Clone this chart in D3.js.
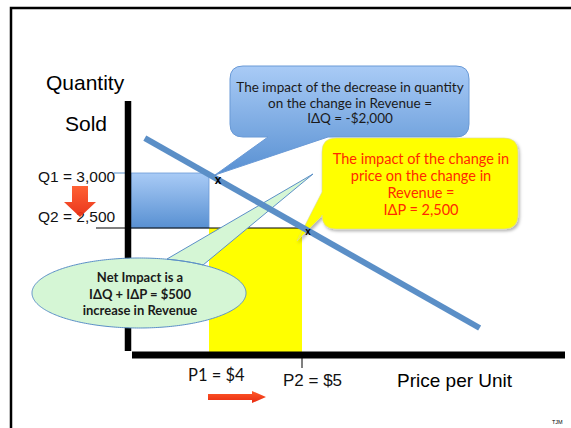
<!DOCTYPE html>
<html>
<head>
<meta charset="utf-8">
<script src="https://cdn.jsdelivr.net/npm/d3@7"></script>
<style>
  body { margin: 0; background: #fff; }
  svg { display: block; }
</style>
</head>
<body>
<svg id="chart"></svg>
<script>
// values
var prices = [4, 5];
var quantities = [3000, 2500];
var priceLabels = ["P1 = $4", "P2 = $5"];
var qtyLabels = ["Q1 = 3,000", "Q2 = 2,500"];
var demandPrice = [3.31, 6.91];
var demandQty = [3318, 1591];

var blueText = ["The impact of the decrease in quantity", "on the change in Revenue =", "I\u0394Q = -$2,000"];
var yellowText = ["The impact of the change in", "price on the change in", "Revenue =", "I\u0394P = 2,500"];
var greenText = ["Net Impact is a", "I\u0394Q + I\u0394P = $500", "increase in Revenue"];

var W = 571, H = 428;
var sans = "'Liberation Sans', Arial, sans-serif";
var cal = "Lato, 'Open Sans', sans-serif";

var svg = d3.select("#chart").attr("width", W).attr("height", H);

var x = d3.scaleLinear().domain(prices).range([209, 302]);
var y = d3.scaleLinear().domain([quantities[1], quantities[0]]).range([228, 173]);

var axisX = 128, axisY = 355;

var defs = svg.append("defs");
var bg = defs.append("linearGradient").attr("id", "blueGrad").attr("x1", 0).attr("y1", 0).attr("x2", 0).attr("y2", 1);
bg.append("stop").attr("offset", "0%").attr("stop-color", "#a9cbf6");
bg.append("stop").attr("offset", "100%").attr("stop-color", "#5890d2");
var rg = defs.append("linearGradient").attr("id", "redGrad").attr("x1", 0).attr("y1", 0).attr("x2", 0).attr("y2", 1);
rg.append("stop").attr("offset", "0%").attr("stop-color", "#ff5a2a");
rg.append("stop").attr("offset", "100%").attr("stop-color", "#e82a10");
var sh = defs.append("filter").attr("id", "shadow").attr("x", "-10%").attr("y", "-10%").attr("width", "130%").attr("height", "130%");
sh.append("feDropShadow").attr("dx", 1.5).attr("dy", 2).attr("stdDeviation", 1.5).attr("flood-color", "#000").attr("flood-opacity", 0.3);

// slide frame
svg.append("path")
  .attr("d", "M11," + H + " V8 H" + W)
  .attr("fill", "none").attr("stroke", "#000").attr("stroke-width", 2.5);

// rectangles
svg.append("rect")
  .attr("x", axisX + 3).attr("y", y(quantities[0]))
  .attr("width", x(prices[0]) - axisX - 3)
  .attr("height", y(quantities[1]) - y(quantities[0]))
  .attr("fill", "url(#blueGrad)").attr("stroke", "#6a9ad6").attr("stroke-width", 0.8);

svg.append("rect")
  .attr("x", x(prices[0])).attr("y", y(quantities[1]))
  .attr("width", x(prices[1]) - x(prices[0]))
  .attr("height", axisY - y(quantities[1]))
  .attr("fill", "#ffff00");

// guide lines
svg.append("line")
  .attr("x1", 96).attr("x2", x(prices[1]) + 2)
  .attr("y1", y(quantities[1])).attr("y2", y(quantities[1]))
  .attr("stroke", "#000").attr("stroke-width", 1);
svg.append("line")
  .attr("x1", 114).attr("x2", axisX)
  .attr("y1", y(quantities[0])).attr("y2", y(quantities[0]))
  .attr("stroke", "#5b8fc7").attr("stroke-width", 1);
svg.append("line")
  .attr("x1", x(prices[1])).attr("x2", x(prices[1]))
  .attr("y1", axisY).attr("y2", 368)
  .attr("stroke", "#000").attr("stroke-width", 1);

// axes
svg.append("line").attr("x1", axisX).attr("x2", axisX).attr("y1", 101).attr("y2", 351)
  .attr("stroke", "#000").attr("stroke-width", 6.5);
svg.append("line").attr("x1", 132).attr("x2", 565).attr("y1", axisY).attr("y2", axisY)
  .attr("stroke", "#000").attr("stroke-width", 7);

// callouts
function bubble(x0, y0, x1, y1, r, tail) {
  var p = d3.path();
  p.moveTo(x0 + r, y0);
  p.lineTo(x1 - r, y0);
  p.quadraticCurveTo(x1, y0, x1, y0 + r);
  p.lineTo(x1, y1 - r);
  p.quadraticCurveTo(x1, y1, x1 - r, y1);
  if (tail.side == "bottom") {
    p.lineTo(tail.b, y1);
    p.lineTo(tail.tx, tail.ty);
    p.lineTo(tail.a, y1);
    p.lineTo(x0 + r, y1);
    p.quadraticCurveTo(x0, y1, x0, y1 - r);
  } else {
    p.lineTo(x0 + r, y1);
    p.quadraticCurveTo(x0, y1, x0, y1 - r);
    p.lineTo(x0, tail.b);
    p.lineTo(tail.tx, tail.ty);
    p.lineTo(x0, tail.a);
  }
  p.lineTo(x0, y0 + r);
  p.quadraticCurveTo(x0, y0, x0 + r, y0);
  p.closePath();
  return p.toString();
}

svg.append("path")
  .attr("d", bubble(230, 66, 469, 137, 13, {side: "bottom", a: 268, b: 328, tx: 215, ty: 175}))
  .attr("fill", "url(#blueGrad)").attr("stroke", "#6a9ad6").attr("stroke-width", 1);

svg.append("path")
  .attr("d", bubble(322, 138, 518, 229, 14, {side: "left", a: 192, b: 216, tx: 297, ty: 241}))
  .attr("fill", "#ffff00").attr("stroke", "#d8d8a0").attr("stroke-width", 0.6)
  .attr("filter", "url(#shadow)");

// green ellipse callout
var gp = d3.path();
var cx = 139, cy = 293, rx = 107, ry = 35;
var a1 = Math.atan2((259 - cy) / ry, (167 - cx) / rx);
var a2 = Math.atan2((265 - cy) / ry, (203 - cx) / rx);
var pts = [];
for (var t = a2; t > a1 - 2 * Math.PI; t -= 0.02) pts.push([cx + rx * Math.cos(t), cy + ry * Math.sin(t)]);
pts.push([167, 259]);
pts.push([313, 174]);
svg.append("path")
  .attr("d", d3.line()(pts) + "Z")
  .attr("fill", "#d5f6d5").attr("stroke", "#5b8fc7").attr("stroke-width", 1);

// demand line
svg.append("line")
  .attr("x1", x(demandPrice[0])).attr("y1", y(demandQty[0]))
  .attr("x2", x(demandPrice[1])).attr("y2", y(demandQty[1]))
  .attr("stroke", "#5b8fc7").attr("stroke-width", 6);

// x marks
svg.append("text").attr("x", 218).attr("y", 184).attr("text-anchor", "middle")
  .attr("font-family", sans).attr("font-weight", "bold").attr("font-size", 12).text("x");
svg.append("text").attr("x", 308).attr("y", 235).attr("text-anchor", "middle")
  .attr("font-family", sans).attr("font-weight", "bold").attr("font-size", 10).text("x");

// callout texts
svg.append("g").selectAll("text").data(blueText).enter().append("text")
  .attr("x", 350).attr("y", (d, i) => 92 + i * 15.5)
  .attr("text-anchor", "middle").attr("font-family", cal).attr("font-size", 13.5)
  .attr("fill", "#1a1a1a").text(d => d);

svg.append("g").selectAll("text").data(yellowText).enter().append("text")
  .attr("x", 421).attr("y", (d, i) => 164 + i * 17)
  .attr("text-anchor", "middle").attr("font-family", cal).attr("font-size", 14.5)
  .attr("fill", "#ff2a00").text(d => d);

svg.append("g").selectAll("text").data(greenText).enter().append("text")
  .attr("x", 140).attr("y", (d, i) => 282 + i * 16.5)
  .attr("text-anchor", "middle").attr("font-family", cal).attr("font-weight", "bold")
  .attr("font-size", 13).attr("fill", "#1a1a1a").text(d => d);

// axis titles
svg.append("text").attr("x", 46).attr("y", 90).attr("font-family", sans).attr("font-size", 21).text("Quantity");
svg.append("text").attr("x", 65).attr("y", 131).attr("font-family", sans).attr("font-size", 21).text("Sold");
svg.append("text").attr("x", 397).attr("y", 387).attr("font-family", sans).attr("font-size", 19).text("Price per Unit");

// quantity labels
svg.append("g").selectAll("text").data(qtyLabels).enter().append("text")
  .attr("x", 38).attr("y", (d, i) => y(quantities[i]) + [9, -6][i])
  .attr("font-family", sans).attr("font-size", 15.5).attr("fill", "#111").text(d => d);

// price labels
svg.append("text").attr("x", 188).attr("y", 381).attr("font-family", cal).attr("font-size", 16.5)
  .attr("fill", "#111").text(priceLabels[0]);
svg.append("text").attr("x", 283).attr("y", 386).attr("font-family", sans).attr("font-size", 17)
  .attr("fill", "#111").text(priceLabels[1]);

// red arrows
svg.append("path")
  .attr("d", "M72,186 H88 V202 H96 L80,217 L64,202 H72 Z")
  .attr("fill", "url(#redGrad)").attr("opacity", 0.95);
svg.append("path")
  .attr("d", "M208,394 H252 V391 L266,397 L252,403 V400 H208 Z")
  .attr("fill", "url(#redGrad)");

svg.append("text").attr("x", 552).attr("y", 424).attr("font-family", sans).attr("font-size", 5.5).text("TJM");
</script>
</body>
</html>
